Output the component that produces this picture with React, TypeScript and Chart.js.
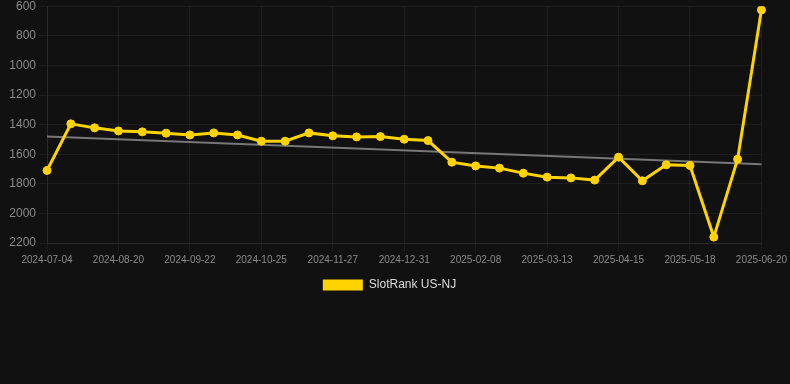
import React, { useEffect, useRef } from "react";
import { Chart, registerables } from "chart.js";

Chart.register(...registerables);

const labels: string[] = [
  "2024-07-04", "2024-07-20", "2024-08-04", "2024-08-20", "2024-08-31", "2024-09-11",
  "2024-09-22", "2024-10-03", "2024-10-14", "2024-10-25", "2024-11-05", "2024-11-16",
  "2024-11-27", "2024-12-08", "2024-12-19", "2024-12-31", "2025-01-13", "2025-01-26",
  "2025-02-08", "2025-02-19", "2025-03-02", "2025-03-13", "2025-03-24", "2025-04-04",
  "2025-04-15", "2025-04-26", "2025-05-07", "2025-05-18", "2025-05-29", "2025-06-09",
  "2025-06-20",
];

const rankValues: number[] = [
  1710, 1395, 1422, 1443, 1449, 1458, 1470, 1456, 1470, 1512, 1512, 1456, 1476, 1483, 1481,
  1499, 1508, 1654, 1679, 1694, 1728, 1755, 1760, 1775, 1620, 1780, 1672, 1676, 2160, 1634,
  625,
];

const trendStart = 1480;
const trendEnd = 1668;

const yTicks = { min: 600, max: 2200, step: 200 };

const YELLOW = "#FFD300";
const GRID = "rgba(255,255,255,0.055)";

export default function App() {
  const ref = useRef<HTMLCanvasElement | null>(null);

  useEffect(() => {
    document.body.style.margin = "0";
    document.body.style.background = "#111111";
    const canvas = ref.current;
    if (!canvas) return;
    const defaultGen = (Chart as any).defaults.plugins.legend.labels.generateLabels;
    const chart = new Chart(canvas, {
      type: "line",
      data: {
        labels,
        datasets: [
          {
            label: "SlotRank US-NJ",
            data: rankValues,
            borderColor: YELLOW,
            backgroundColor: YELLOW,
            borderWidth: 3,
            pointRadius: 4,
            pointBorderWidth: 1,
            pointBackgroundColor: YELLOW,
            pointBorderColor: YELLOW,
            tension: 0,
          },
          {
            label: "trend",
            data: [
              { x: labels[0], y: trendStart },
              { x: labels[labels.length - 1], y: trendEnd },
            ] as any,
            borderColor: "#777777",
            backgroundColor: "#777777",
            borderWidth: 2,
            pointRadius: 0,
            tension: 0,
          },
        ],
      },
      options: {
        animation: false,
        responsive: true,
        maintainAspectRatio: false,
        layout: { padding: { left: 0, right: 11, top: 0, bottom: 0 } },
        plugins: {
          tooltip: { enabled: false },
          legend: {
            position: "bottom",
            labels: {
              color: "#dddddd",
              font: { size: 12 },
              boxWidth: 40,
              boxHeight: 11,
              filter: (item) => item.text !== "trend",
              generateLabels: (c: any) =>
                defaultGen(c).map((l: any) => ({ ...l, lineWidth: 0 })),
            },
          },
        },
        scales: {
          x: {
            type: "category",
            grid: {
              color: (ctx: any) => (ctx.index % 3 === 0 ? GRID : "rgba(0,0,0,0)"),
            },
            border: { color: GRID },
            ticks: {
              color: "#8a8a8a",
              font: { size: 10 },
              autoSkip: false,
              maxRotation: 0,
              callback: (_v: any, i: number) => (i % 3 === 0 ? labels[i] : ""),
            },
          },
          y: {
            reverse: true,
            min: yTicks.min,
            max: yTicks.max,
            grid: { color: GRID },
            border: { color: GRID },
            afterFit: (s: any) => {
              s.width = 47;
            },
            ticks: {
              stepSize: yTicks.step,
              color: "#8a8a8a",
              font: { size: 12 },
              callback: (v: any) => String(v),
            },
          },
        },
      },
    });
    return () => chart.destroy();
  }, []);

  return (
    <div style={{ position: "absolute", left: 0, top: -4, width: 790, height: 305 }}>
      <canvas ref={ref} />
    </div>
  );
}
